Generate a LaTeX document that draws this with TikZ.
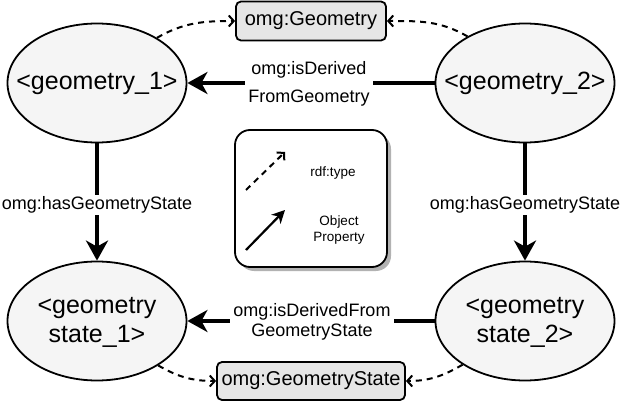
\documentclass[tikz,border=0pt]{standalone}
\usepackage{fontspec}
\setmainfont{Liberation Sans}
\usetikzlibrary{shapes.geometric,arrows.meta,shadows}
\definecolor{ellfill}{HTML}{F5F5F5}
\definecolor{boxfill}{HTML}{E6E6E6}
\begin{document}
\begin{tikzpicture}[x=1pt,y=1pt,
  ent/.style={ellipse, draw, line width=1.8pt, fill=ellfill, minimum width=179pt, minimum height=119pt, inner sep=0pt},
  enttxt/.style={align=center, inner sep=0pt, font=\fontsize{25}{29}\selectfont},
  cls/.style={draw, rounded corners=5pt, line width=1.8pt, fill=boxfill, inner sep=0pt, font=\fontsize{20}{24}\selectfont},
  lbl/.style={fill=white, inner xsep=3pt, inner ysep=2pt, align=center, font=\fontsize{18}{20}\selectfont},
  prop/.style={line width=4pt, -{Stealth[length=20pt,width=22pt,inset=6pt]}},
  typ/.style={line width=2pt, dash pattern=on 6pt off 5pt, -{Straight Barb[length=5pt,width=11pt,line width=2pt]}},
  legtxt/.style={align=center, inner sep=0pt, font=\fontsize{13.5}{16}\selectfont},
]
\useasboundingbox (0,0) rectangle (622,-404);
\fill[white] (0,0) rectangle (622,-404);

% legend
\node[draw, rounded corners=15pt, line width=1.8pt, fill=white, minimum width=152pt, minimum height=137pt,
  drop shadow={shadow xshift=4pt, shadow yshift=-4pt, fill=black, opacity=0.3}] (leg) at (311,-198.5) {};
\coordinate (d1) at (246,-190);
\coordinate (d2) at (285,-152);
\coordinate (o1) at (246,-250);
\coordinate (o2) at (285,-210);
\draw[typ] (d1) -- (d2);
\draw[line width=2.2pt, -{Stealth[length=13pt,width=13pt,inset=4pt]}] (o1) -- (o2);
\node[legtxt] (rt) at (333,-173) {rdf:type};
\node[legtxt] (op) at (339,-230) {Object\\Property};

% entities
\node[ent, label={[enttxt]center:<geometry\_1>}] (g1) at (97,-83) {};
\node[ent, label={[enttxt]center:<geometry\_2>}] (g2) at (525,-83) {};
\node[ent, label={[enttxt, yshift=-1pt]center:<geometry\\state\_1>}] (s1) at (97,-321) {};
\node[ent, label={[enttxt, yshift=-1pt]center:<geometry\\state\_2>}] (s2) at (525,-321) {};

% classes
\node[cls, minimum width=150pt, minimum height=39pt] (geo) at (311,-21) {omg:Geometry};
\node[cls, minimum width=188pt, minimum height=38pt] (gs) at (311,-381) {omg:GeometryState};

% object properties
\draw[prop] (g2) -- (g1);
\node[lbl, font=\fontsize{18}{28}\selectfont] (l1) at (309,-84) {omg:isDerived\\FromGeometry};
\draw[prop] (s2) -- (s1);
\node[lbl, inner ysep=0pt] (l2) at (312,-322) {omg:isDerivedFrom\\GeometryState};
\draw[prop] (g1) -- (s1);
\node[lbl] (l3) at (97,-205) {omg:hasGeometryState};
\draw[prop] (g2) -- (s2);
\node[lbl] (l4) at (525,-205) {omg:hasGeometryState};

% rdf:type
\draw[typ] (g1.37) to[out=30,in=180] (geo.west);
\draw[typ] (g2.141) to[out=150,in=0] (geo.east);
\draw[typ] (s1.-36) to[out=-30,in=180] (gs.west);
\draw[typ] (s2.215) to[out=210,in=0] (gs.east);
\end{tikzpicture}
\end{document}
